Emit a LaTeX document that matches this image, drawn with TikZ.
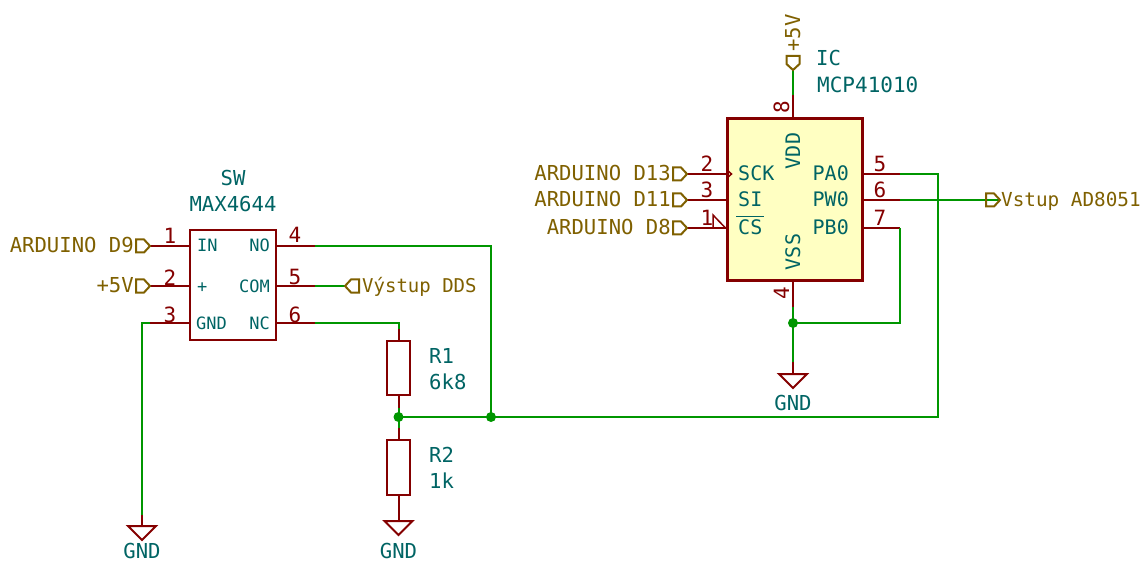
\documentclass[tikz,border=0pt]{standalone}
\usepackage{fontspec}
\setmainfont{DejaVu Sans Mono}
\definecolor{wirecol}{HTML}{009600}
\definecolor{pincol}{HTML}{840000}
\definecolor{textcol}{HTML}{006464}
\definecolor{flagcol}{HTML}{7F6000}
\definecolor{bodycol}{HTML}{FFFFC2}
\tikzset{
	wire/.style={wirecol,line width=2pt},
	pinline/.style={pincol,line width=2pt},
	body/.style={draw=pincol,inner sep=0pt},
	lbl/.style={inner sep=0pt,text height=14pt,text depth=0pt,font=\fontsize{20.6}{20.6}\selectfont},
	reftext/.style={lbl,textcol},
	pintext/.style={lbl,textcol,font=\fontsize{20}{20}\selectfont},
	smalltext/.style={lbl,textcol,text height=12pt,font=\fontsize{17}{17}\selectfont},
	numtext/.style={lbl,pincol,font=\fontsize{21}{21}\selectfont},
	flagtext/.style={lbl,flagcol},
	flag/.pic={\draw[flagcol,line width=2pt] (0,0) -- (-6,-6.5) -- (-14,-6.5) -- (-14,6.5) -- (-6,6.5) -- cycle;},
	gndsym/.pic={\draw[pincol,line width=2pt] (0,0) -- (-14,0) -- (0,14) -- (14,0) -- cycle;},
}
\begin{document}
\begin{tikzpicture}[x=1pt,y=-1pt]
	\useasboundingbox (0,0) rectangle (1148,561);
	% BLOCKS
	\node (sw) [body,line width=2.2pt,minimum width=86pt,minimum height=110pt] at (233,285) {};
	\node (ic) [body,fill=bodycol,line width=3pt,minimum width=135pt,minimum height=162pt] at (794.5,200) {};
	\node (r1) [body,line width=2.6pt,minimum width=23pt,minimum height=54pt] at (398.5,368) {};
	\node (r2) [body,line width=2.6pt,minimum width=23pt,minimum height=55pt] at (398.5,467.5) {};

	% POINTS
	\coordinate (flagin) at (150,246);
	\coordinate (flagplus) at (150,286);
	\coordinate (pingnd) at (150,323);
	\coordinate (cornergnd) at (142,323);
	\coordinate (pingndend) at (142,515);
	\coordinate (gndleft) at (142,526);
	\coordinate (pinno) at (315,246);
	\coordinate (pincom) at (315,286);
	\coordinate (flagcom) at (345,286);
	\coordinate (pinnc) at (315,323);
	\coordinate (cornernc) at (398.5,323);
	\coordinate (pinronetop) at (398.5,329);
	\coordinate (pinronebot) at (398.5,408);
	\coordinate (juncr) at (398.5,417);
	\coordinate (pinrtwotop) at (398.5,428);
	\coordinate (gndmid) at (398.5,521);
	\coordinate (juncno) at (491,417);
	\coordinate (cornerno) at (491,246);
	\coordinate (flagsck) at (687,174);
	\coordinate (flagsi) at (687,200);
	\coordinate (flagcs) at (687,228);
	\coordinate (pinpa) at (900,174);
	\coordinate (pinpw) at (900,200);
	\coordinate (pinpb) at (900,228);
	\coordinate (cornerpa) at (938,174);
	\coordinate (cornerline) at (938,417);
	\coordinate (flagvstup) at (1000,200);
	\coordinate (flagvdd) at (793,70);
	\coordinate (pinvdd) at (793,95);
	\coordinate (pinvss) at (793,307);
	\coordinate (juncvss) at (793,323);
	\coordinate (cornerpb) at (900,323);
	\coordinate (pinvssend) at (793,362);
	\coordinate (gndright) at (793,374);

	% PINS
	\draw [pinline] (flagin) -- (flagin -| sw.west);
	\draw [pinline] (flagplus) -- (flagplus -| sw.west);
	\draw [pinline] (pingnd) -- (pingnd -| sw.west);
	\draw [pinline] (pinno) -- (pinno -| sw.east);
	\draw [pinline] (pincom) -- (pincom -| sw.east);
	\draw [pinline] (pinnc) -- (pinnc -| sw.east);
	\draw [pinline] (pinronetop) -- (r1.north);
	\draw [pinline] (r1.south) -- (pinronebot);
	\draw [pinline] (pinrtwotop) -- (r2.north);
	\draw [pinline] (r2.south) -- (gndmid);
	\draw [pinline] (pingndend) -- (gndleft);
	\draw [pinline] (flagsck) -- (flagsck -| ic.west);
	\draw [pinline] (flagsi) -- (flagsi -| ic.west);
	\draw [pinline] (flagcs) -- (flagcs -| ic.west);
	\draw [pinline] (pinpa) -- (pinpa -| ic.east);
	\draw [pinline] (pinpw) -- (pinpw -| ic.east);
	\draw [pinline] (pinpb) -- (pinpb -| ic.east);
	\draw [pinline] (pinvdd) -- (pinvdd |- ic.north);
	\draw [pinline] (pinvss) -- (pinvss |- ic.south);
	\draw [pinline] (pinvssend) -- (gndright);

	% WIRES
	\draw [wire] (pingnd) -- (cornergnd) -- (pingndend);
	\draw [wire] (pinno) -- (cornerno) -- (juncno);
	\draw [wire] (pincom) -- (flagcom);
	\draw [wire] (pinnc) -- (cornernc) -- (pinronetop);
	\draw [wire] (pinronebot) -- (pinrtwotop);
	\draw [wire] (juncr) -- (juncno) -- (cornerline) -- (cornerpa) -- (pinpa);
	\draw [wire] (pinpw) -- (flagvstup);
	\draw [wire] (pinpb) -- (cornerpb) -- (juncvss);
	\draw [wire] (pinvss) -- (pinvssend);
	\draw [wire] (pinvdd) -- (flagvdd);
	\fill[wirecol] (juncr) circle (5pt);
	\fill[wirecol] (juncno) circle (5pt);
	\fill[wirecol] (juncvss) circle (5pt);

	% SYMBOLS
	\pic at (flagin) {flag};
	\pic at (flagplus) {flag};
	\pic at (flagsck) {flag};
	\pic at (flagsi) {flag};
	\pic at (flagcs) {flag};
	\pic at (flagvstup) {flag};
	\pic [rotate=180] at (flagcom) {flag};
	\pic [rotate=-90] at (flagvdd) {flag};
	\pic at (gndleft) {gndsym};
	\pic at (gndmid) {gndsym};
	\pic at (gndright) {gndsym};
	\draw [pinline,line width=1.5pt] (727,170) -- (731.5,174) -- (727,178);
	\draw [pinline,line width=1.5pt] (flagcs -| ic.west) -- (713,215) -- (713,228);

	% LABELS
	\node (swname) [reftext] at (233,179) {SW};
	\node (swtype) [reftext] at (233,205) {MAX4644};
	\node (icname) [reftext,anchor=west] at (816,59) {IC};
	\node (ictype) [reftext,anchor=west,font=\fontsize{21}{21}\selectfont] at (817,86) {MCP41010};
	\node (ronename) [reftext,anchor=west] at (429,356) {R1};
	\node (roneval) [reftext,anchor=west] at (429,382) {6k8};
	\node (rtwoname) [reftext,anchor=west] at (429,455) {R2};
	\node (rtwoval) [reftext,anchor=west] at (429,481) {1k};
	\node (gndtxta) [reftext] at (142,551) {GND};
	\node (gndtxtb) [reftext] at (398.5,551) {GND};
	\node (gndtxtc) [reftext] at (793,403) {GND};

	\node (txtin) [smalltext,anchor=west] at (197,246) {IN};
	\node (txtplus) [smalltext,anchor=west] at (197,286) {+};
	\node (txtgnd) [smalltext,anchor=west] at (196,323) {GND};
	\node (txtno) [smalltext,anchor=east] at (270,246) {NO};
	\node (txtcom) [smalltext,anchor=east] at (270,286) {COM};
	\node (txtnc) [smalltext,anchor=east] at (270,323) {NC};

	\node (txtsck) [pintext,anchor=west] at (738,174) {SCK};
	\node (txtsi) [pintext,anchor=west] at (738,200) {SI};
	\node (txtcs) [pintext,anchor=west] at (738,228) {CS};
	\draw [textcol,line width=1.5pt] (736,216.5) -- (764,216.5);
	\node (txtpa) [pintext,anchor=east] at (849,174) {PA0};
	\node (txtpw) [pintext,anchor=east] at (849,200) {PW0};
	\node (txtpb) [pintext,anchor=east] at (849,228) {PB0};
	\node (txtvdd) [pintext,rotate=90] at (793,151) {VDD};
	\node (txtvss) [pintext,rotate=90] at (793,252) {VSS};

	\node (numa) [numtext] at (170,237) {1};
	\node (numb) [numtext] at (170,278) {2};
	\node (numc) [numtext] at (170,315) {3};
	\node (numd) [numtext] at (295,236) {4};
	\node (nume) [numtext] at (295,277) {5};
	\node (numf) [numtext] at (295,315) {6};
	\node (numg) [numtext] at (707,165) {2};
	\node (numh) [numtext] at (707,191) {3};
	\node (numi) [numtext] at (707,219) {1};
	\node (numj) [numtext] at (880,165) {5};
	\node (numk) [numtext] at (880,191) {6};
	\node (numl) [numtext] at (880,219) {7};
	\node (numm) [numtext,rotate=90] at (782,107) {8};
	\node (numn) [numtext,rotate=90] at (782,293) {4};

	\node (flagtxta) [flagtext,anchor=east] at (134,246) {ARDUINO D9};
	\node (flagtxtb) [flagtext,anchor=east] at (134,286) {+5V};
	\node (flagtxtc) [flagtext,anchor=west,font=\fontsize{19}{19}\selectfont] at (362,286) {Výstup DDS};
	\node (flagtxtd) [flagtext,anchor=east] at (671,174) {ARDUINO D13};
	\node (flagtxte) [flagtext,anchor=east] at (671,200) {ARDUINO D11};
	\node (flagtxtf) [flagtext,anchor=east] at (671,228) {ARDUINO D8};
	\node (flagtxtg) [flagtext,anchor=west,font=\fontsize{19.3}{19.3}\selectfont] at (1001,200) {Vstup AD8051};
	\node (flagtxth) [flagtext,rotate=90] at (793,33) {+5V};
\end{tikzpicture}
\end{document}
